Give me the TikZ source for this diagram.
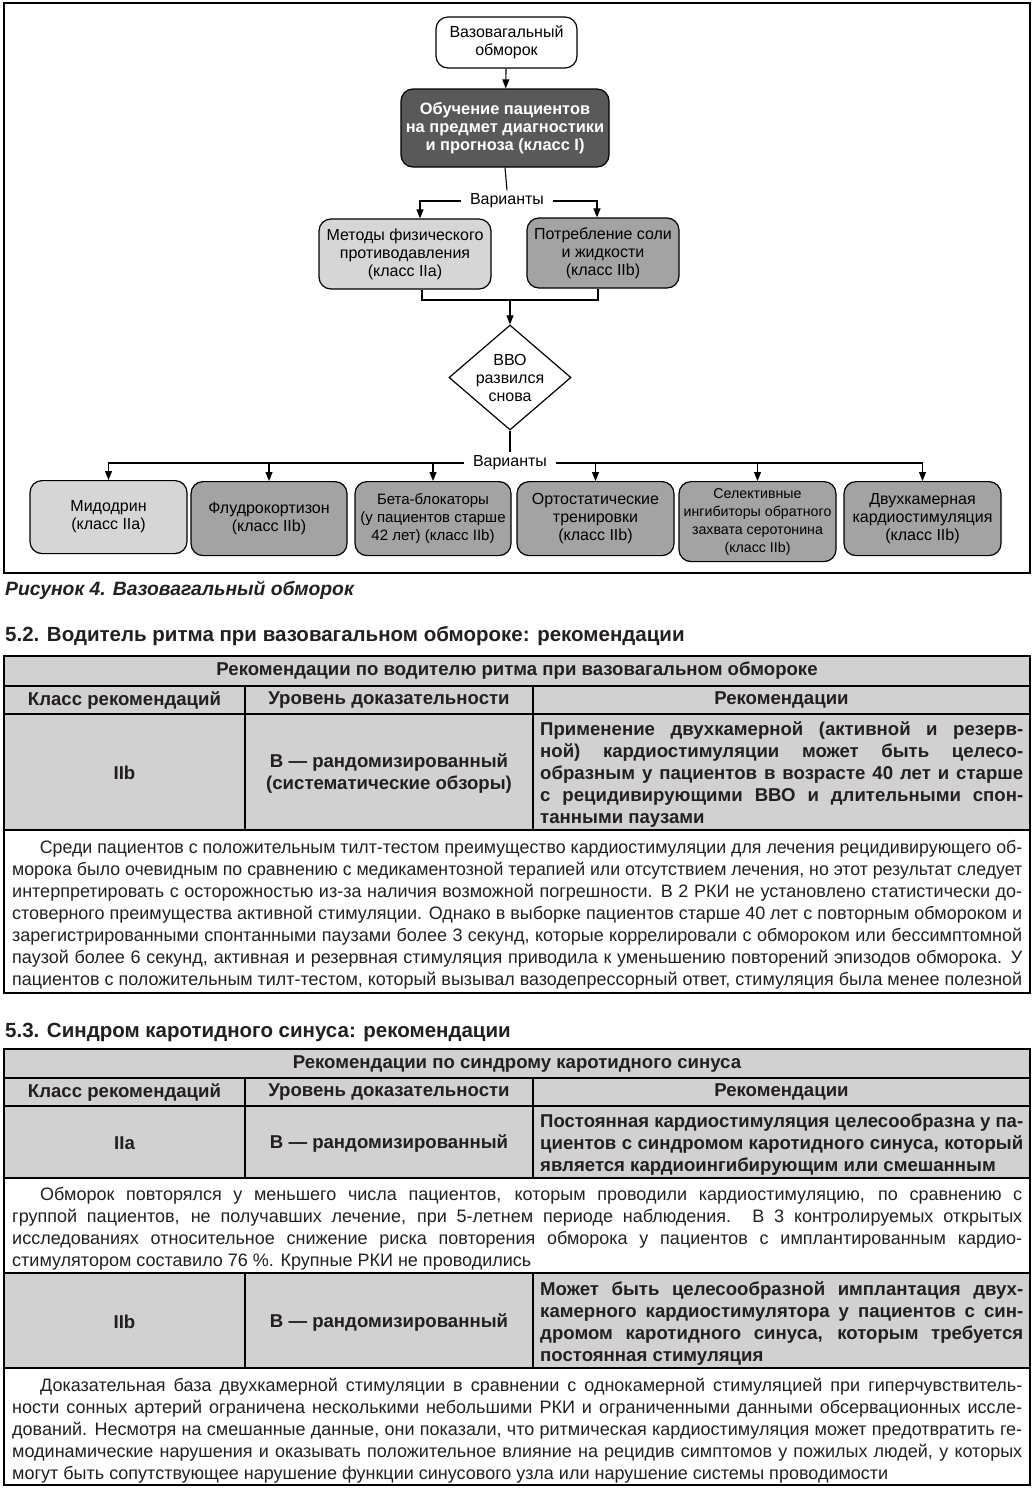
\documentclass[tikz,border=0pt]{standalone}
\usepackage{fontspec}
\setmainfont{Liberation Sans}
\usepackage{graphicx}
\usetikzlibrary{positioning, shapes.geometric, arrows.meta}

\definecolor{boxdark}{HTML}{595959}
\definecolor{boxmid}{HTML}{A3A3A3}
\definecolor{boxlight}{HTML}{D6D6D6}
\definecolor{tabgray}{HTML}{D1D1D1}
\definecolor{ink}{HTML}{231F20}

% one justified line of a column
\newlength\colw
\newsavebox\linebox
\newcommand{\jl}[1]{\sbox\linebox{#1}%
  \ifdim\wd\linebox>\colw\resizebox{\colw}{\height}{\usebox\linebox}%
  \else\makebox[\colw][s]{#1}\fi}
\newcommand{\jlast}[1]{\sbox\linebox{#1}%
  \ifdim\wd\linebox>\colw\resizebox{\colw}{\height}{\usebox\linebox}%
  \else\usebox\linebox\fi}

\begin{document}
\begin{tikzpicture}[x=1pt, y=-1pt,
   box/.style={draw, line width=1.2pt, rounded corners=12pt, align=center,
     inner sep=1pt, font=\fontsize{16}{18}\selectfont},
   arr/.style={-{Triangle[length=9pt,width=7pt]}, line width=1.1pt},
   link/.style={line width=1.1pt},
   txt/.style={inner sep=0pt, text=ink, font=\fontsize{18}{22}\selectfont},
   head/.style={txt, font=\fontsize{18.6}{22}\selectfont\bfseries},
   grid/.style={line width=1.2pt}]
\fill[white] (0,0) rectangle (1034,1489);
\useasboundingbox (0,0) rectangle (1034,1489);

% flowchart
\draw[grid] (4,3) rectangle (1030,573);
\node[box, fill=white, minimum width=141pt, minimum height=51pt] (vvs) at (506.5,42.5)
   {Вазовагальный\\обморок};
\node[box, fill=boxdark, text=white, font=\fontsize{16.4}{18}\selectfont\bfseries,
   minimum width=208pt, minimum height=78pt] (edu) at (505,128)
   {Обучение пациентов\\на предмет диагностики\\и прогноза (класс I)};
\node[font=\fontsize{16}{18}\selectfont, inner xsep=9pt] (var1) at (507,201) {Варианты};
\node[box, fill=boxlight, minimum width=172pt, minimum height=70pt] (mfp) at (405,254)
   {Методы физического\\противодавления\\(класс IIa)};
\node[box, fill=boxmid, minimum width=152pt, minimum height=70pt] (salt) at (603,253)
   {Потребление соли\\и жидкости\\(класс IIb)};
\coordinate (join) at (510,300);
\node[draw, diamond, line width=1.2pt, fill=white, minimum width=122pt, minimum height=105pt,
   inner sep=0pt, label={[align=center, font=\fontsize{16}{18}\selectfont]center:ВВО\\развился\\снова}]
   (vvo) at (510,377.5) {};
\node[font=\fontsize{16}{18}\selectfont, inner xsep=9pt] (var2) at (510,463) {Варианты};

\node[box, fill=boxlight, anchor=north, minimum width=157pt, minimum height=73pt] (b1) at (108.5,480)
   {Мидодрин\\(класс IIa)};
\node[box, fill=boxmid, anchor=north, minimum width=156pt, minimum height=74pt] (b2) at (269,481)
   {Флудрокортизон\\(класс IIb)};
\node[box, fill=boxmid, anchor=north, minimum width=156pt, minimum height=74pt,
   font=\fontsize{15}{18}\selectfont] (b3) at (433,481)
   {Бета-блокаторы\\(у пациентов старше\\42 лет) (класс IIb)};
\node[box, fill=boxmid, anchor=north, minimum width=157pt, minimum height=74pt] (b4) at (595.5,481)
   {Ортостатические\\тренировки\\(класс IIb)};
\node[box, fill=boxmid, anchor=north, minimum width=157pt, minimum height=80pt,
   font=\fontsize{14.2}{18}\selectfont] (b5) at (757.5,481)
   {Селективные\\ингибиторы обратного\\захвата серотонина\\(класс IIb)};
\node[box, fill=boxmid, anchor=north, minimum width=157pt, minimum height=74pt] (b6) at (922.5,481)
   {Двухкамерная\\кардиостимуляция\\(класс IIb)};

\draw[arr] (vvs) -- (edu);
\draw[link] (edu.south) -- (var1.north);
\draw[arr] (var1.west) -| ([xshift=15pt]mfp.north);
\draw[arr] (var1.east) -| ([xshift=-6pt]salt.north);
\draw[link] ([xshift=17pt]mfp.south) |- (join) -| ([xshift=-5pt]salt.south);
\draw[arr] (join) -- (vvo.north);
\draw[link] (vvo.south) -- (var2.north);
\draw[arr] (var2.west) -| (b1.north);
\draw[arr] (var2.east) -| (b6.north);
\foreach \b in {b2,b3,b4,b5}
   \draw[arr] (\b.north |- var2) -- (\b.north);

\node[txt, anchor=west, font=\fontsize{19.3}{22}\selectfont\bfseries\itshape] (cap) at (5,590)
   {Рисунок 4. Вазовагальный обморок};

% table 5.2
\node[head, anchor=west, font=\fontsize{20.5}{22}\selectfont\bfseries] (h52) at (5,636)
   {5.2. Водитель ритма при вазовагальном обмороке: рекомендации};
\filldraw[grid, fill=tabgray] (4,656) rectangle (1030,830);
\draw[grid] (4,686) -- (1030,686) (4,714) -- (1030,714)
   (245,686) -- (245,830) (533,686) -- (533,830);
\draw[grid] (4,830) rectangle (1030,993);
\node[head] (t1) at (517,671) {Рекомендации по водителю ритма при вазовагальном обмороке};
\node[head] (t1c1) at (124.5,700) {Класс рекомендаций};
\node[head] (t1c2) at (389,700) {Уровень доказательности};
\node[head] (t1c3) at (781.5,700) {Рекомендации};
\node[head] (t1k) at (124.5,773) {IIb};
\node[head, align=center] (t1l) at (389,773) {B — рандомизированный\\(систематические обзоры)};
\setlength\colw{483pt}
\foreach \t [count=\i from 0] in {
   {\jl{Применение двухкамерной (активной и резерв-}},
   {\jl{ной) кардиостимуляции может быть целесо-}},
   {\jl{образным у пациентов в возрасте 40 лет и старше}},
   {\jl{с рецидивирующими ВВО и длительными спон-}},
   {\jlast{танными паузами}}}
   \node[head, anchor=base west] (t1r-\i) at (540,735+22*\i) {\t};
\setlength\colw{1010pt}
\foreach \t [count=\i from 0] in {
   {\jl{\hspace*{28pt}Среди пациентов с положительным тилт-тестом преимущество кардиостимуляции для лечения рецидивирующего об-}},
   {\jl{морока было очевидным по сравнению с медикаментозной терапией или отсутствием лечения, но этот результат следует}},
   {\jl{интерпретировать с осторожностью из-за наличия возможной погрешности. В 2 РКИ не установлено статистически до-}},
   {\jl{стоверного преимущества активной стимуляции. Однако в выборке пациентов старше 40 лет с повторным обмороком и}},
   {\jl{зарегистрированными спонтанными паузами более 3 секунд, которые коррелировали с обмороком или бессимптомной}},
   {\jl{паузой более 6 секунд, активная и резервная стимуляция приводила к уменьшению повторений эпизодов обморока. У}},
   {\jl{пациентов с положительным тилт-тестом, который вызывал вазодепрессорный ответ, стимуляция была менее полезной}}}
   \node[txt, anchor=base west] (p1-\i) at (12,853+22*\i) {\t};

% table 5.3
\node[head, anchor=west, font=\fontsize{20.5}{22}\selectfont\bfseries] (h53) at (5,1032)
   {5.3. Синдром каротидного синуса: рекомендации};
\filldraw[grid, fill=tabgray] (4,1049) rectangle (1030,1178);
\filldraw[grid, fill=tabgray] (4,1273) rectangle (1030,1368);
\draw[grid] (4,1078) -- (1030,1078) (4,1106) -- (1030,1106)
   (245,1078) -- (245,1178) (533,1078) -- (533,1178)
   (245,1273) -- (245,1368) (533,1273) -- (533,1368);
\draw[grid] (4,1178) rectangle (1030,1273) (4,1368) rectangle (1030,1485);
\node[head] (t2) at (517,1064) {Рекомендации по синдрому каротидного синуса};
\node[head] (t2c1) at (124.5,1092) {Класс рекомендаций};
\node[head] (t2c2) at (389,1092) {Уровень доказательности};
\node[head] (t2c3) at (781.5,1092) {Рекомендации};
\node[head] (t2k1) at (124.5,1143) {IIa};
\node[head] (t2l1) at (389,1143) {B — рандомизированный};
\node[head] (t2k2) at (124.5,1322) {IIb};
\node[head] (t2l2) at (389,1322) {B — рандомизированный};
\setlength\colw{483pt}
\foreach \t [count=\i from 0] in {
   {\jl{Постоянная кардиостимуляция целесообразна у па-}},
   {\jl{циентов с синдромом каротидного синуса, который}},
   {\jlast{является кардиоингибирующим или смешанным}}}
   \node[head, anchor=base west] (t2r-\i) at (540,1127+22*\i) {\t};
\foreach \t [count=\i from 0] in {
   {\jl{Может быть целесообразной имплантация двух-}},
   {\jl{камерного кардиостимулятора у пациентов с син-}},
   {\jl{дромом каротидного синуса, которым требуется}},
   {\jlast{постоянная стимуляция}}}
   \node[head, anchor=base west] (t2s-\i) at (540,1295+22*\i) {\t};
\setlength\colw{1010pt}
\foreach \t [count=\i from 0] in {
   {\jl{\hspace*{28pt}Обморок повторялся у меньшего числа пациентов, которым проводили кардиостимуляцию, по сравнению с}},
   {\jl{группой пациентов, не получавших лечение, при 5-летнем периоде наблюдения. В 3 контролируемых открытых}},
   {\jl{исследованиях относительное снижение риска повторения обморока у пациентов с имплантированным кардио-}},
   {\jlast{стимулятором составило 76 \%. Крупные РКИ не проводились}}}
   \node[txt, anchor=base west] (p2-\i) at (12,1200+22*\i) {\t};
\foreach \t [count=\i from 0] in {
   {\jl{\hspace*{28pt}Доказательная база двухкамерной стимуляции в сравнении с однокамерной стимуляцией при гиперчувствитель-}},
   {\jl{ности сонных артерий ограничена несколькими небольшими РКИ и ограниченными данными обсервационных иссле-}},
   {\jl{дований. Несмотря на смешанные данные, они показали, что ритмическая кардиостимуляция может предотвратить ге-}},
   {\jl{модинамические нарушения и оказывать положительное влияние на рецидив симптомов у пожилых людей, у которых}},
   {\jlast{могут быть сопутствующее нарушение функции синусового узла или нарушение системы проводимости}}}
   \node[txt, anchor=base west] (p3-\i) at (12,1391+22*\i) {\t};
\end{tikzpicture}
\end{document}
